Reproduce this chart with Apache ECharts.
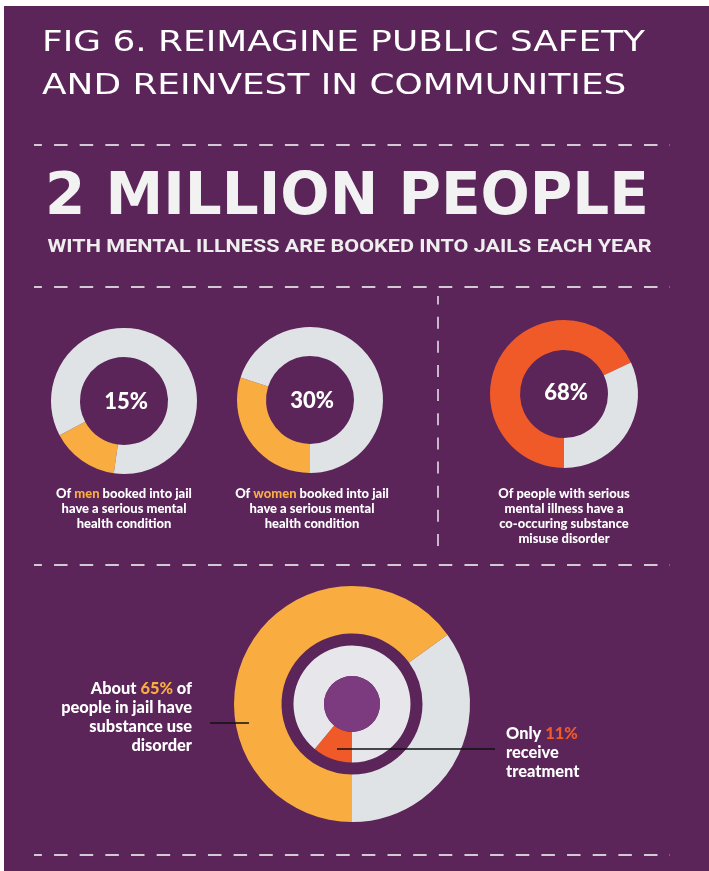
<!DOCTYPE html>
<html><head><meta charset="utf-8">
<script src="https://cdn.jsdelivr.net/npm/echarts@6/dist/echarts.min.js"></script>
<style>html,body{margin:0;padding:0;background:#fff}#c{width:709px;height:871px}</style>
</head><body><div id="c"></div>
<script>
// ---------------- data ----------------
const titleLines = ['FIG 6. REIMAGINE PUBLIC SAFETY', 'AND REINVEST IN COMMUNITIES'];
const headline = '2 MILLION PEOPLE';
const subhead = 'WITH MENTAL ILLNESS ARE BOOKED INTO JAILS EACH YEAR';
const groups = ['men', 'women'];
const smiShare = [15, 30];          // % booked into jail with serious mental health condition
const coOccurShare = 68;            // % of people with SMI with co-occurring substance misuse
const sudShare = 65;                // % of people in jail with substance use disorder
const treatShare = 11;              // % of those who receive treatment
const smiCaption = ['Of {o|GROUP} booked into jail', 'have a serious mental', 'health condition'];
const coOccurCaption = ['Of people with serious', 'mental illness have a', 'co-occuring substance', 'misuse disorder'];
const sudCaption = ['About {o|PCT%} of', 'people in jail have', 'substance use', 'disorder'];
const treatCaption = ['Only {r|PCT%}', 'receive', 'treatment'];

// ---------------- style ----------------
const PURPLE = '#5b2559', ORANGE = '#f9ad41', RED = '#f05a29', GRAY = '#e0e3e6', GRAY2 = '#e7e7eb', DISC = '#7c3b7f';
const DASH = '#d3c9d4';
const W = 900;

const mctx = document.createElement('canvas').getContext('2d');
function measure(text, font) { mctx.font = font; return mctx.measureText(text).width; }

const titleFont = '"DejaVu Sans"';
const titleSize = 29;
const titleScale = 603 / measure(titleLines[0], `normal ${titleSize}px ${titleFont}`);
const headSize = 58 * 604 / measure(headline, `bold 58px ${titleFont}`);
const subSize = 19;
const subScale = 604 / measure(subhead, `bold ${subSize}px Roboto`);
const capSize = 12 * 136 / measure('Of men booked into jail', `${W} 12px Lato`);
const bigSize = 15 * 131 / measure('people in jail have', `${W} 15px Lato`);

function donut(center, radius, values, colors, startAngle) {
  return {
    type: 'pie', center, radius, startAngle, clockwise: true, silent: true,
    animation: false, avoidLabelOverlap: false,
    label: { show: false }, labelLine: { show: false }, emphasis: { disabled: true },
    itemStyle: { borderWidth: 0 },
    data: values.map((v, i) => ({ value: v, itemStyle: { color: colors[i] } }))
  };
}

function hDash(y) {
  return { type: 'line', z: 5, shape: { x1: 34, y1: y, x2: 670, y2: y },
    style: { stroke: DASH, lineWidth: 2, lineDash: [13.5, 12.15], lineDashOffset: 5.6 } };
}

function richText(x, y, lines, size, align, lh) {
  return { type: 'text', z: 20, x, y,
    style: { text: lines.join('\n'), fill: '#ffffff', fontFamily: 'Lato', fontWeight: W,
      fontSize: size, align, verticalAlign: 'top', lineHeight: lh,
      rich: {
        o: { fill: ORANGE, fontFamily: 'Lato', fontWeight: W, fontSize: size, lineHeight: lh },
        r: { fill: RED, fontFamily: 'Lato', fontWeight: W, fontSize: size, lineHeight: lh }
      } } };
}

function pctLabel(x, y, v) {
  return { type: 'text', z: 20, x, y,
    style: { text: v + '%', fill: '#ffffff', fontFamily: 'Lato', fontWeight: W, fontSize: 22,
      align: 'center', verticalAlign: 'middle' } };
}

const smiCenters = [[124, 401], [310, 400]];
const smiStarts = [262, 270];
const capCenters = [124, 312];

const series = [];
smiShare.forEach((v, i) => series.push(donut(smiCenters[i], [44, 73], [v, 100 - v], [ORANGE, GRAY], smiStarts[i])));
series.push(donut([564, 394], [44, 74], [coOccurShare, 100 - coOccurShare], [RED, GRAY], 270));
series.push(donut([352, 704], [70.5, 118], [sudShare, 100 - sudShare], [ORANGE, GRAY], 270));
series.push(donut([352, 704], [28, 58.5], [treatShare, 100 - treatShare], [RED, GRAY2], 270));
series.push(donut([352, 704], [0, 28], [1], [DISC], 270));

const graphics = [
  { type: 'rect', z: 0, shape: { x: 4, y: 6, width: 705, height: 865 }, style: { fill: PURPLE } },
  { type: 'text', z: 20, x: 42, y: 43, scaleX: titleScale,
    style: { text: titleLines[0], fill: '#ffffff', fontFamily: 'DejaVu Sans', fontSize: titleSize, align: 'left', verticalAlign: 'middle' } },
  { type: 'text', z: 20, x: 42, y: 86.5, scaleX: titleScale,
    style: { text: titleLines[1], fill: '#ffffff', fontFamily: 'DejaVu Sans', fontSize: titleSize, align: 'left', verticalAlign: 'middle' } },
  { type: 'text', z: 20, x: 45, y: 199,
    style: { text: headline, fill: '#f2f2f2', fontFamily: 'DejaVu Sans', fontWeight: 'bold', fontSize: headSize, align: 'left', verticalAlign: 'middle' } },
  { type: 'text', z: 20, x: 47.5, y: 247, scaleX: subScale,
    style: { text: subhead, fill: '#eeeeee', fontFamily: 'Roboto', fontWeight: 'bold', fontSize: subSize, align: 'left', verticalAlign: 'middle' } },
  hDash(145), hDash(287), hDash(565), hDash(855),
  { type: 'line', z: 5, shape: { x1: 438, y1: 296, x2: 438, y2: 557 },
    style: { stroke: DASH, lineWidth: 1.8, lineDash: [12, 12.15], lineDashOffset: 3.5 } },
  { type: 'line', z: 30, shape: { x1: 210, y1: 723, x2: 249, y2: 723 }, style: { stroke: '#111111', lineWidth: 1.4 } },
  { type: 'line', z: 30, shape: { x1: 337, y1: 749, x2: 495, y2: 749 }, style: { stroke: '#111111', lineWidth: 1.4 } }
];
smiShare.forEach((v, i) => {
  graphics.push(pctLabel(smiCenters[i][0] + 2, smiCenters[i][1] + 1, v));
  graphics.push(richText(capCenters[i], 486.5, smiCaption.map(s => s.replace('GROUP', groups[i])), capSize, 'center', 15));
});
graphics.push(pctLabel(566, 393, coOccurShare));
graphics.push(richText(564, 486.5, coOccurCaption, capSize, 'center', 15));
graphics.push(richText(192, 679.5, sudCaption.map(s => s.replace('PCT', sudShare)), bigSize, 'right', 19));
graphics.push(richText(506, 724.5, treatCaption.map(s => s.replace('PCT', treatShare)), bigSize, 'left', 19));

const chart = echarts.init(document.getElementById('c'), null, { renderer: 'canvas' });
chart.setOption({
  backgroundColor: '#ffffff',
  animation: false,
  graphic: { elements: graphics },
  series
});
</script></body></html>
